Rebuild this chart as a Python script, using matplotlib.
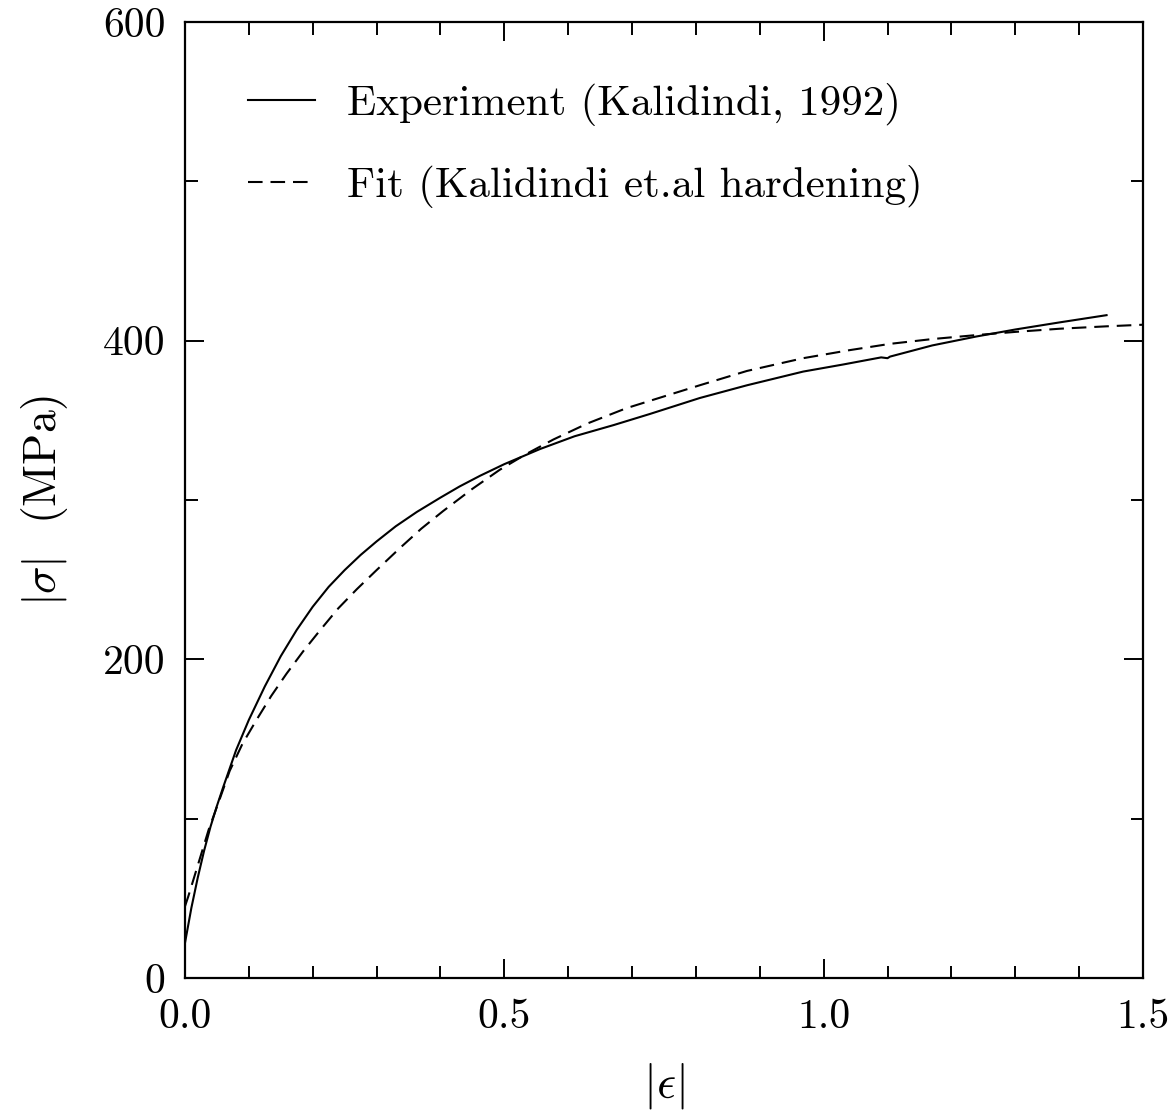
import numpy as np
import matplotlib
matplotlib.use("Agg")
import matplotlib.pyplot as plt
from matplotlib.ticker import MultipleLocator, FormatStrFormatter

plt.rcParams["font.family"] = ["cmr10", "DejaVu Serif"]
plt.rcParams["mathtext.fontset"] = "cm"
plt.rcParams["axes.formatter.use_mathtext"] = True

# Experimental stress-strain curve (Kalidindi, 1992)
exp_strain = [0.0, 0.01, 0.02, 0.03, 0.04, 0.05, 0.06, 0.08, 0.10, 0.125, 0.15,
              0.175, 0.20, 0.225, 0.25, 0.275, 0.30, 0.33, 0.363, 0.40, 0.43,
              0.462, 0.50, 0.556, 0.61, 0.671, 0.728, 0.806, 0.88, 0.968, 1.03,
              1.09, 1.10, 1.104, 1.17, 1.239, 1.30, 1.37, 1.443]
exp_stress = [22, 44, 63, 80, 95, 108, 120, 143, 162, 183, 202,
              218.5, 233, 245.5, 256, 265.5, 274, 283.5, 292.5, 301.5, 308.5,
              315.2, 322.5, 332, 340, 347, 354, 364, 372, 380.6, 385,
              389.5, 389, 390, 397, 402.6, 407, 411.5, 416]

# Fitted curve (Kalidindi et al. hardening)
fit_strain = [0.0, 0.005, 0.018, 0.037, 0.055, 0.07, 0.09, 0.112, 0.135, 0.159,
              0.185, 0.211, 0.24, 0.269, 0.30, 0.337, 0.37, 0.404, 0.45, 0.493,
              0.535, 0.577, 0.63, 0.691, 0.75, 0.806, 0.88, 0.968, 1.04, 1.104,
              1.17, 1.239, 1.30, 1.37, 1.443, 1.5]
fit_stress = [45, 51, 68, 93, 113, 130, 147, 162, 177, 191,
              205, 218, 232, 244, 256, 270, 282, 293, 307, 319,
              329, 338, 348, 357.6, 365, 372, 381, 389, 394, 398,
              401, 403.5, 405.5, 407.5, 409, 410]

fig = plt.figure(figsize=(11.73, 11.10), dpi=100)
ax = fig.add_axes([0.1577, 0.1189, 0.8167, 0.8613])

ax.plot(exp_strain, exp_stress, color="black", lw=1.5,
        label="Experiment (Kalidindi, 1992)")
ax.plot(fit_strain, fit_stress, color="black", lw=1.5, dashes=(7, 3.8),
        label="Fit (Kalidindi et.al hardening)")

ax.set_xlim(0, 1.5)
ax.set_ylim(0, 600)

ax.xaxis.set_major_locator(MultipleLocator(0.5))
ax.xaxis.set_minor_locator(MultipleLocator(0.1))
ax.yaxis.set_major_locator(MultipleLocator(200))
ax.yaxis.set_minor_locator(MultipleLocator(100))
ax.xaxis.set_major_formatter(FormatStrFormatter("%.1f"))
ax.yaxis.set_major_formatter(FormatStrFormatter("%d"))

for s in ax.spines.values():
    s.set_linewidth(1.6)

ax.tick_params(which="both", direction="in", top=True, right=True,
               width=1.4, labelsize=30)
ax.tick_params(which="major", length=14)
ax.tick_params(which="minor", length=9)
ax.tick_params(axis="x", which="major", pad=15)
ax.tick_params(axis="y", which="major", pad=14)

ax.set_xlabel(r"$|\epsilon|$", fontsize=34, labelpad=18)
ax.set_ylabel(r"$|\sigma|$  (MPa)", fontsize=33, labelpad=24)

leg = ax.legend(loc="upper left", bbox_to_anchor=(0.066, 0.936), frameon=False,
                fontsize=31, handlelength=1.55, handletextpad=0.75,
                labelspacing=0.9, borderpad=0, borderaxespad=0)

fig.savefig("out.png", dpi=100)
